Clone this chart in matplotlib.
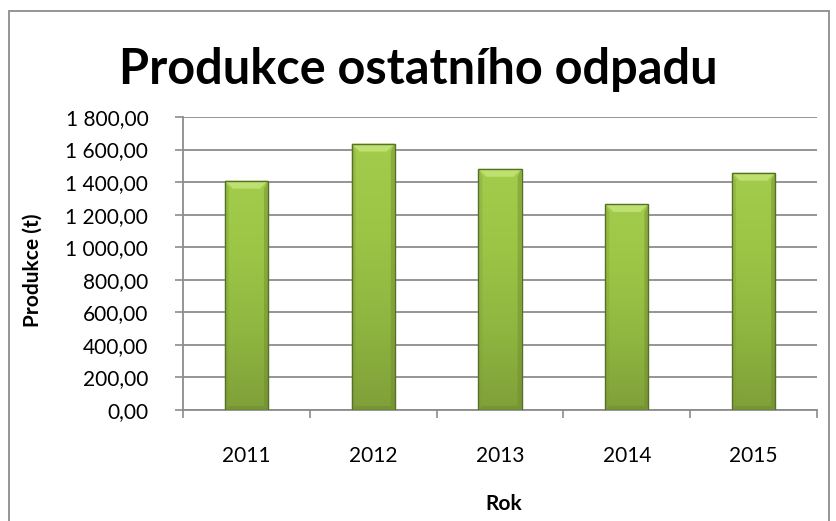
import matplotlib
matplotlib.use("Agg")
import matplotlib.pyplot as plt
import numpy as np
from matplotlib.patches import Rectangle, Polygon
from matplotlib.colors import LinearSegmentedColormap
from matplotlib.ticker import FuncFormatter

# data
years = ['2011', '2012', '2013', '2014', '2015']
production = [1409, 1637, 1482, 1266, 1458]

plt.rcParams['font.family'] = ['Lato', 'DejaVu Sans']

W, H = 837, 521
fig = plt.figure(figsize=(W / 100, H / 100), dpi=100)
ax = fig.add_axes([183 / W, 1 - 410 / H, (817 - 183) / W, (410 - 117) / H])

# outer chart frame (bottom edge runs off the picture)
fig.patches.append(Rectangle((9 / W, -0.05), 820 / W, 1.05 - 11 / H, transform=fig.transFigure,
                             fill=False, edgecolor='#8c8c8c', linewidth=1.3))

ymax = 1800
x = np.arange(len(years))
width = 0.34
bars = ax.bar(x, production, width=width, color='#9cc546', edgecolor='none', zorder=3)

# bevel sizes, pixels -> data units
px_y = ymax / 293
px_x = len(years) / 634
bev_h, bev_w = 8 * px_y, 8 * px_x

cmap = LinearSegmentedColormap.from_list('g', ['#809f39', '#8fb640', '#9cc546', '#a3cc4c'])
grad = np.linspace(0, 1, 256).reshape(-1, 1)
for b in bars:
    x0, y0 = b.get_x(), b.get_y()
    w, h = b.get_width(), b.get_height()
    im = ax.imshow(grad, cmap=cmap, origin='lower', aspect='auto',
                   extent=(x0, x0 + w, y0, y0 + h), zorder=3.5)
    im.set_clip_path(b)
    top = y0 + h
    # light top bevel
    ax.add_patch(Polygon([(x0, top), (x0 + w, top), (x0 + w - bev_w, top - bev_h), (x0 + bev_w, top - bev_h)],
                         closed=True, facecolor='#bde070', edgecolor='none', zorder=3.6))
    # darker side bevels
    ax.add_patch(Polygon([(x0, top), (x0 + bev_w * 0.5, top - bev_h), (x0 + bev_w * 0.5, y0 + bev_h * 0.5), (x0, y0)],
                         closed=True, facecolor='#7f9e37', alpha=0.35, edgecolor='none', zorder=3.6))
    ax.add_patch(Polygon([(x0 + w, top), (x0 + w - bev_w * 0.5, top - bev_h), (x0 + w - bev_w * 0.5, y0 + bev_h * 0.5), (x0 + w, y0)],
                         closed=True, facecolor='#6d8a2e', alpha=0.45, edgecolor='none', zorder=3.6))
    # darker bottom bevel
    ax.add_patch(Polygon([(x0, y0), (x0 + w, y0), (x0 + w - bev_w * 0.5, y0 + bev_h * 0.5), (x0 + bev_w * 0.5, y0 + bev_h * 0.5)],
                         closed=True, facecolor='#6f8d30', alpha=0.6, edgecolor='none', zorder=3.6))
    ax.add_patch(Rectangle((x0, y0), w, h, fill=False, edgecolor='#56702a', linewidth=1.0, zorder=4))

ax.set_xlim(-0.5, len(years) - 0.5)
ax.set_ylim(0, ymax)
ax.set_yticks(np.arange(0, ymax + 1, 200))
ax.yaxis.set_major_formatter(FuncFormatter(lambda v, p: f'{v:,.2f}'.replace(',', ' ').replace('.', ',')))
ax.set_xticks(x)
ax.set_xticklabels(years)
ax.set_xticks(np.arange(-0.5, len(years), 1), minor=True)
ax.tick_params(axis='x', which='major', length=0, pad=26, labelsize=15)
ax.tick_params(axis='x', which='minor', length=6, color='#8c8c8c', width=1.2)
ax.tick_params(axis='y', length=6, color='#8c8c8c', width=1.2, labelsize=15, pad=19)

ax.grid(axis='y', color='#8c8c8c', linewidth=1.3, zorder=0)
ax.set_axisbelow(True)
for s in ['top', 'right']:
    ax.spines[s].set_visible(False)
for s in ['left', 'bottom']:
    ax.spines[s].set_color('#8c8c8c')
    ax.spines[s].set_linewidth(1.3)

fig.text(33 / W, 1 - 270 / H, 'Produkce (t)', rotation=90, ha='center', va='center',
         fontsize=15, fontweight='bold')
fig.text(504 / W, 1 - 504 / H, 'Rok', ha='center', va='center', fontsize=15, fontweight='bold')
fig.text(418 / W, 1 - 70 / H, 'Produkce ostatního odpadu', ha='center', va='center',
         fontsize=35, fontweight='bold')

plt.savefig('out.png', dpi=100)
